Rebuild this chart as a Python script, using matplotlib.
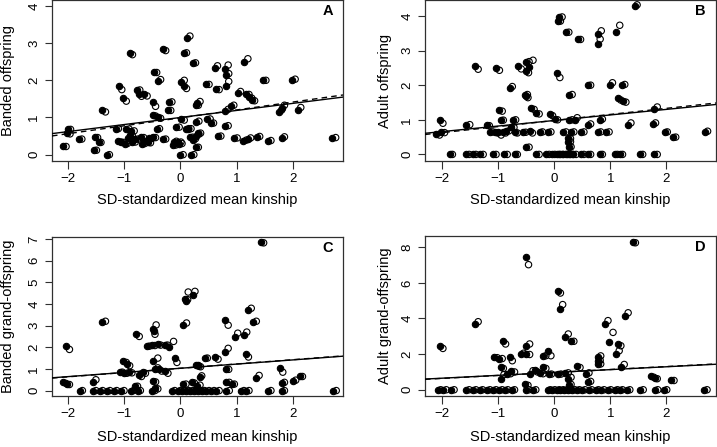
import numpy as np
import matplotlib
matplotlib.use('Agg')
import matplotlib.pyplot as plt

plt.rcParams['font.family'] = ['Liberation Sans', 'DejaVu Sans']

W, H = 717, 447
XLABEL = 'SD-standardized mean kinship'

# ---- panel A: banded offspring (filled = one estimate, open = the other)
A_kin = [-2.09, -2.00, -2.01, -1.80, -1.52, -1.45, -1.54, -1.31, -1.39, -1.15,
         -1.09, -1.01, -0.96, -0.90, -1.05, -0.99, -0.90, -0.87, -0.77, -0.74,
         -0.64, -0.80, -0.70, -0.68, -0.47, -0.40, -0.49, -0.49, -0.40, -0.42,
         -0.49, -0.31, -0.22, -0.20, -0.07, -0.13, -0.04, 0.00, 0.19, 0.06,
         0.02, 0.06, 0.12, 0.22, 0.02, 0.27, 0.30, 0.28, 0.28, 0.27,
         0.61, 0.79, 0.81, 0.81, 1.14, 0.46, 0.64, 1.02, 1.17, 1.22,
         1.28, 1.47, 1.98, 0.90, 0.80, 1.76, 1.80, 2.09, 0.48, 0.54,
         0.80, 0.67, 0.96, 1.12, 1.20, 1.36, 1.56, 1.80, 2.70, -0.55,
         -0.31, -0.12, 0.17, 0.14, 0.22, 0.31, -0.58, -0.85, -0.62, -0.93,
         -0.02, -1.10, 0.10]
A_val = [0.23, 0.70, 0.59, 0.43, 0.47, 0.34, 0.12, 0.00, 1.19, 0.70,
         1.85, 1.53, 0.70, 2.74, 0.34, 0.30, 0.52, 0.65, 1.75, 1.62,
         1.62, 0.43, 0.47, 0.30, 2.23, 1.98, 1.42, 1.06, 1.00, 0.70,
         0.47, 2.84, 1.19, 1.42, 0.74, 0.26, 0.34, 0.00, 0.00, 2.74,
         1.95, 1.86, 3.15, 2.47, 0.95, 1.33, 1.40, 0.88, 0.50, 0.20,
         2.34, 2.30, 2.15, 1.86, 2.48, 1.89, 1.77, 1.65, 1.62, 1.55,
         1.46, 2.00, 2.01, 1.30, 1.18, 1.14, 1.26, 1.19, 0.96, 0.84,
         0.76, 0.49, 0.45, 0.37, 0.43, 0.47, 0.37, 0.44, 0.44, 0.45,
         0.43, 0.34, 0.47, 0.68, 0.40, 0.58, 0.33, 0.35, 0.38, 0.44,
         0.28, 0.36, 0.70]
A_kin_o = [-2.03, -1.95, -1.96, -1.75, -1.47, -1.41, -1.49, -1.26, -1.33, -1.10,
           -1.04, -0.96, -0.91, -0.85, -1.00, -0.94, -0.85, -0.82, -0.72, -0.69,
           -0.59, -0.75, -0.65, -0.63, -0.42, -0.35, -0.44, -0.44, -0.35, -0.37,
           -0.44, -0.26, -0.17, -0.15, -0.02, -0.08, 0.01, 0.05, 0.24, 0.11,
           0.07, 0.11, 0.17, 0.27, 0.07, 0.32, 0.35, 0.33, 0.33, 0.32,
           0.66, 0.85, 0.86, 0.86, 1.20, 0.51, 0.69, 1.07, 1.22, 1.27,
           1.32, 1.52, 2.04, 0.95, 0.85, 1.80, 1.85, 2.14, 0.53, 0.59,
           0.85, 0.72, 1.01, 1.17, 1.25, 1.41, 1.61, 1.85, 2.76, -0.50,
           -0.26, -0.07, 0.22, 0.19, 0.27, 0.36, -0.53, -0.80, -0.57, -0.88,
           0.03, -1.05, 0.15]
A_val_o = [0.22, 0.68, 0.56, 0.42, 0.46, 0.33, 0.12, 0.00, 1.15, 0.70,
           1.75, 1.44, 0.69, 2.69, 0.33, 0.30, 0.50, 0.64, 1.74, 1.57,
           1.58, 0.42, 0.46, 0.30, 2.21, 2.02, 1.30, 1.04, 0.98, 0.70,
           0.46, 2.80, 1.19, 1.42, 0.74, 0.26, 0.34, 0.00, 0.00, 2.74,
           2.00, 1.78, 3.19, 2.47, 0.93, 1.33, 1.43, 0.90, 0.55, 0.20,
           2.39, 2.41, 2.18, 1.97, 2.58, 1.89, 1.75, 1.70, 1.62, 1.52,
           1.45, 2.00, 2.03, 1.33, 1.22, 1.20, 1.33, 1.27, 0.96, 0.85,
           0.78, 0.50, 0.45, 0.39, 0.45, 0.49, 0.38, 0.48, 0.46, 0.44,
           0.42, 0.36, 0.47, 0.70, 0.43, 0.58, 0.32, 0.34, 0.37, 0.43,
           0.30, 0.34, 0.70]
A_kin0, A_kin0_o = [], []

# ---- panel B: adult offspring
B_kin = [-2.11, -2.05, -2.02, -1.57, -1.21, -1.42, -1.04, -0.98, -0.96, -1.00,
         -0.80, -0.74, -0.77, -0.86, -0.65, -0.50, -0.50, -0.45, -0.53, -0.51,
         -0.41, -0.32, -0.50, -1.15, -1.06, -0.92, -0.71, -0.56, -0.44, -0.26,
         -0.11, -0.08, 0.01, 0.16, 0.24, 0.24, 0.26, 0.06, 0.09, 0.21,
         0.04, 0.27, 0.42, 0.78, 0.78, 1.11, 1.44, 0.60, 0.99, 1.21,
         1.14, 1.23, 1.79, 0.81, 0.60, 1.32, 1.76, 1.97, 2.12, 2.69,
         0.30, 0.48, 0.78, 0.93, 0.27, 0.37]
B_val = [0.58, 0.99, 0.66, 0.85, 0.85, 2.56, 2.50, 1.28, 0.99, 0.65,
         1.91, 0.99, 0.80, 0.68, 2.56, 2.66, 2.40, 2.53, 1.73, 1.68,
         1.33, 1.19, 0.21, 0.65, 0.65, 0.65, 0.65, 0.65, 0.68, 0.65,
         0.65, 1.16, 1.02, 0.65, 0.46, 0.37, 0.22, 3.85, 3.98, 3.53,
         2.36, 1.73, 3.32, 3.48, 3.20, 3.54, 4.28, 2.00, 2.00, 2.00,
         1.62, 1.53, 1.30, 1.00, 0.85, 0.86, 0.89, 0.65, 0.50, 0.65,
         0.65, 0.65, 0.65, 0.65, 1.00, 1.00]
B_kin_o = [-2.05, -1.99, -1.96, -1.51, -1.16, -1.36, -0.98, -0.93, -0.91, -0.95,
           -0.75, -0.69, -0.72, -0.81, -0.59, -0.45, -0.46, -0.38, -0.48, -0.47,
           -0.36, -0.27, -0.45, -1.10, -1.01, -0.87, -0.66, -0.51, -0.39, -0.21,
           -0.06, -0.03, 0.06, 0.21, 0.29, 0.29, 0.30, 0.11, 0.14, 0.26,
           0.10, 0.32, 0.47, 0.84, 0.82, 1.17, 1.48, 0.65, 1.04, 1.26,
           1.19, 1.28, 1.84, 0.86, 0.65, 1.37, 1.81, 2.02, 2.17, 2.74,
           0.35, 0.53, 0.83, 0.98, 0.32, 0.41]
B_val_o = [0.56, 0.90, 0.63, 0.86, 0.83, 2.46, 2.43, 1.25, 0.99, 0.56,
           1.96, 1.00, 0.78, 0.68, 2.47, 2.68, 2.36, 2.72, 1.73, 1.64,
           1.30, 1.17, 0.21, 0.65, 0.62, 0.62, 0.62, 0.64, 0.62, 0.65,
           0.65, 1.12, 1.00, 0.65, 0.46, 0.37, 0.22, 3.85, 3.97, 3.53,
           2.22, 1.73, 3.32, 3.57, 3.33, 3.73, 4.32, 2.00, 2.07, 2.02,
           1.57, 1.51, 1.37, 1.02, 0.88, 0.91, 0.91, 0.65, 0.50, 0.67,
           0.65, 0.65, 0.65, 0.65, 1.00, 1.06]
# individuals with zero adult offspring
B_kin0 = [-1.87, -1.57, -1.45, -1.32, -1.09, -0.89, -0.71, -0.32, -0.14, -0.04,
          0.04, 0.10, 0.16, 0.22, 0.28, 0.34, 0.48, 0.60, 0.81, 1.08,
          1.17, 1.53, 1.79]
B_kin0_o = [-1.82, -1.52, -1.40, -1.27, -1.04, -0.84, -0.66, -0.27, -0.09, 0.01,
            0.09, 0.15, 0.21, 0.27, 0.33, 0.39, 0.53, 0.65, 0.86, 1.13,
            1.22, 1.58, 1.84]

# ---- panel C: banded grand-offspring
C_kin = [-2.03, -2.09, -2.02, -1.55, -1.39, -1.01, -0.94, -1.08, -1.00, -0.91,
         -0.78, -0.74, -0.81, -0.67, -0.60, -0.50, -0.40, -0.28, -0.20, -0.49,
         -0.47, -0.49, -0.45, -0.38, -0.27, -0.49, -0.45, -0.10, 0.08, 0.10,
         0.22, 0.05, 0.28, 0.05, 0.20, 0.30, 1.44, 1.21, 1.29, 0.80,
         0.97, 1.14, 0.80, 1.16, 0.43, 0.61, 0.31, 0.82, 1.77, 0.35,
         1.35, 0.82, 0.91, 1.80, 2.00, 2.12]
C_val = [2.05, 0.38, 0.32, 0.40, 3.15, 1.36, 1.25, 0.86, 0.80, 0.85,
         2.62, 0.70, 0.22, 0.86, 2.06, 2.10, 2.15, 2.12, 2.02, 2.86,
         2.75, 1.36, 1.00, 1.00, 0.90, 0.45, 0.10, 1.50, 4.25, 4.15,
         4.42, 3.03, 1.18, 0.30, 0.40, 0.20, 6.86, 3.74, 3.17, 3.25,
         2.48, 2.55, 1.80, 1.70, 1.50, 1.55, 1.17, 1.00, 1.05, 0.65,
         0.58, 0.40, 0.30, 0.33, 0.46, 0.68]
C_kin_o = [-1.97, -2.03, -1.97, -1.50, -1.33, -0.96, -0.90, -1.03, -0.95, -0.86,
           -0.73, -0.69, -0.76, -0.62, -0.55, -0.45, -0.35, -0.23, -0.12, -0.43,
           -0.45, -0.40, -0.40, -0.33, -0.22, -0.44, -0.40, -0.06, 0.13, 0.14,
           0.26, 0.11, 0.33, 0.10, 0.25, 0.35, 1.48, 1.26, 1.35, 0.85,
           1.02, 1.18, 0.85, 1.21, 0.48, 0.67, 0.36, 0.86, 1.82, 0.38,
           1.40, 0.87, 0.96, 1.85, 2.05, 2.17]
C_val_o = [1.90, 0.33, 0.28, 0.50, 3.20, 1.30, 1.15, 0.85, 0.80, 0.82,
           2.50, 0.65, 0.20, 0.80, 2.05, 2.08, 2.10, 2.10, 2.27, 3.03,
           2.60, 1.50, 1.05, 0.90, 0.80, 0.40, 0.08, 1.30, 4.20, 4.55,
           4.58, 3.12, 1.12, 0.30, 0.35, 0.25, 6.82, 3.80, 3.20, 3.02,
           2.65, 2.70, 1.95, 1.55, 1.50, 1.45, 1.10, 0.98, 0.85, 0.68,
           0.70, 0.38, 0.30, 0.38, 0.48, 0.65]
C_kin0 = [-1.79, -1.55, -1.43, -1.30, -1.18, -1.05, -0.88, -0.76, -0.50, -0.15,
          -0.05, 0.03, 0.10, 0.17, 0.24, 0.31, 0.38, 0.46, 0.55, 0.64,
          0.82, 1.08, 1.17, 1.56, 1.80, 2.72]
C_kin0_o = [-1.74, -1.50, -1.38, -1.25, -1.13, -1.00, -0.83, -0.71, -0.45, -0.10,
            0.00, 0.08, 0.15, 0.22, 0.29, 0.36, 0.43, 0.51, 0.60, 0.69,
            0.87, 1.13, 1.22, 1.61, 1.85, 2.77]

# ---- panel D: adult grand-offspring
D_kin = [-2.05, -1.42, -1.08, -0.98, -0.92, -0.96, -0.95, -0.80, -0.77, -0.84,
         -0.59, -0.51, -0.50, -0.50, -0.53, -0.43, -0.35, -0.25, -0.20, -0.20,
         -0.11, 0.07, 0.10, 0.20, 0.30, 0.07, 0.20, 0.26, 0.24, 0.41,
         0.57, 0.60, 0.78, 0.78, 0.78, 0.91, 0.97, 1.11, 1.14, 1.20,
         1.26, 1.40, 1.73, 1.80, 2.09, -0.10]
D_val = [2.47, 3.69, 1.85, 1.70, 2.75, 1.30, 0.60, 1.82, 1.07, 0.90,
         2.00, 7.47, 2.47, 2.00, 0.32, 0.90, 1.10, 0.95, 1.30, 1.91,
         2.15, 5.56, 4.53, 2.94, 2.75, 0.88, 0.92, 0.25, 0.60, 1.33,
         0.88, 0.45, 1.85, 1.60, 1.42, 3.69, 2.66, 2.00, 2.57, 1.30,
         4.13, 8.30, 0.79, 0.65, 0.52, 0.90]
D_kin_o = [-1.99, -1.36, -1.02, -0.93, -0.87, -0.91, -0.90, -0.75, -0.71, -0.78,
           -0.55, -0.46, -0.44, -0.44, -0.47, -0.38, -0.30, -0.20, -0.15, -0.15,
           -0.06, 0.11, 0.15, 0.25, 0.35, 0.12, 0.25, 0.30, 0.30, 0.46,
           0.62, 0.65, 0.83, 0.82, 0.83, 0.96, 1.05, 1.16, 1.19, 1.25,
           1.32, 1.45, 1.78, 1.84, 2.14, -0.05]
D_val_o = [2.32, 3.82, 1.80, 1.75, 2.57, 1.20, 0.85, 1.63, 1.00, 0.90,
           2.05, 7.02, 2.57, 1.98, 0.25, 1.07, 1.00, 0.90, 1.20, 1.91,
           1.91, 5.43, 4.78, 3.13, 2.72, 0.88, 0.95, 0.30, 0.70, 1.25,
           0.95, 0.47, 1.90, 1.65, 1.45, 3.88, 3.22, 2.19, 2.47, 1.42,
           4.32, 8.25, 0.70, 0.62, 0.52, 0.88]
D_kin0 = [-2.08, -1.98, -1.84, -1.57, -1.45, -1.33, -1.20, -1.09, -0.98, -0.88,
          -0.76, -0.50, -0.38, -0.12, -0.04, 0.04, 0.11, 0.18, 0.25, 0.32,
          0.40, 0.50, 0.62, 0.74, 0.84, 0.96, 1.08, 1.17, 1.30, 1.54,
          1.80, 1.96, 2.68]
D_kin0_o = [-2.03, -1.93, -1.79, -1.52, -1.40, -1.28, -1.15, -1.04, -0.93, -0.83,
            -0.71, -0.45, -0.33, -0.07, 0.01, 0.09, 0.16, 0.23, 0.30, 0.37,
            0.45, 0.55, 0.67, 0.79, 0.89, 1.01, 1.13, 1.22, 1.35, 1.59,
            1.85, 2.01, 2.73]

# regression fits (intercept, slope): solid and dashed
A_fit, A_fit2 = (1.00, 0.190), (0.99, 0.213)
B_fit, B_fit2 = (0.98, 0.160), (0.98, 0.175)
C_fit, C_fit2 = (1.03, 0.193), (1.03, 0.198)
D_fit, D_fit2 = (0.97, 0.160), (0.97, 0.166)

MS = 21  # marker area (pt^2)


def px_rect(left, top, right, bottom):
    return [left / W, 1 - bottom / H, (right - left) / W, (bottom - top) / H]


def draw_panel(fig, box, kin, val, kin_o, val_o, kin0, kin0_o, fit, fit2,
               xlim, ylim, yticks, ylabel, letter, ylab_x, xlab_y):
    ax = fig.add_axes(px_rect(*box))
    # solid points first, hollow circles (like R pch=1) over them
    ax.scatter(kin, val, s=MS, c='black', edgecolors='black', linewidths=0.8, zorder=2)
    ax.scatter(kin0, np.zeros(len(kin0)), s=MS, c='black', edgecolors='black',
               linewidths=0.8, zorder=2)
    ax.scatter(kin_o, val_o, s=MS, facecolors='none', edgecolors='black',
               linewidths=0.8, zorder=3)
    ax.scatter(kin0_o, np.zeros(len(kin0_o)), s=MS, facecolors='none',
               edgecolors='black', linewidths=0.8, zorder=3)
    ax.axline((0, fit[0]), slope=fit[1], color='black', lw=1.0, zorder=4)
    ax.axline((0, fit2[0]), slope=fit2[1], color='black', lw=1.0,
              ls=(0, (4, 3)), zorder=4)

    ax.set_xlim(*xlim)
    ax.set_ylim(*ylim)
    ax.set_xticks([-2, -1, 0, 1, 2])
    ax.set_yticks(yticks)
    ax.tick_params(direction='out', length=5.4, width=0.8, pad=3,
                   labelsize=9.5, color='#303030')
    ax.tick_params(axis='y', labelrotation=90)
    for lab in ax.get_yticklabels():
        lab.set_va('center')
    for sp in ax.spines.values():
        sp.set_color('#303030')
        sp.set_linewidth(0.9)

    ax.set_xlabel(XLABEL, fontsize=10.5)
    ax.xaxis.set_label_coords(0.5, xlab_y)
    ax.xaxis.label.set_va('center')
    ax.set_ylabel(ylabel, fontsize=10.5)
    ax.yaxis.set_label_coords(ylab_x, 0.5)
    ax.yaxis.label.set_va('center')

    ax.text(0.965, 0.93, letter, transform=ax.transAxes, ha='right', va='center',
            fontsize=10.5, fontweight='bold')
    return ax


fig = plt.figure(figsize=(W / 100, H / 100), dpi=100)

draw_panel(fig, (52, 0, 343, 161), A_kin, A_val, A_kin_o, A_val_o, A_kin0, A_kin0_o,
           A_fit, A_fit2, (-2.28, 2.89), (-0.17, 4.16), [0, 1, 2, 3, 4],
           'Banded offspring', 'A', -0.150, -0.242)
draw_panel(fig, (425, 0, 716, 161), B_kin, B_val, B_kin_o, B_val_o, B_kin0, B_kin0_o,
           B_fit, B_fit2, (-2.31, 2.89), (-0.19, 4.46), [0, 1, 2, 3, 4],
           'Adult offspring', 'B', -0.1385, -0.242)
draw_panel(fig, (52, 237, 343, 396), C_kin, C_val, C_kin_o, C_val_o, C_kin0, C_kin0_o,
           C_fit, C_fit2, (-2.28, 2.89), (-0.25, 7.09), [0, 1, 2, 3, 4, 5, 6, 7],
           'Banded grand-offspring', 'C', -0.150, -0.258)
draw_panel(fig, (425, 236, 716, 396), D_kin, D_val, D_kin_o, D_val_o, D_kin0, D_kin0_o,
           D_fit, D_fit2, (-2.31, 2.89), (-0.35, 8.63), [0, 2, 4, 6, 8],
           'Adult grand-offspring', 'D', -0.1385, -0.256)

fig.savefig('out.png', dpi=100)
